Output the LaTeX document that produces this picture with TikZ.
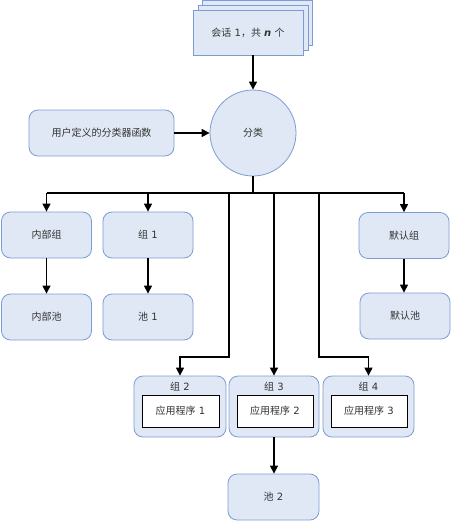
\documentclass[tikz,border=0pt]{standalone}
\usepackage{fontspec}
\setmainfont{DejaVu Sans}
\newfontfamily\cjk{Noto Sans CJK SC}
\usetikzlibrary{arrows.meta,positioning}
\definecolor{bfill}{HTML}{DFE8F4}
\definecolor{bbord}{HTML}{7E9CD4}
\definecolor{tcol}{HTML}{333333}
\newcommand{\fs}{\fontsize{10pt}{12pt}\selectfont}
\begin{document}
\begin{tikzpicture}[x=1pt,y=-1pt,
  box/.style={draw=bbord, fill=bfill, rounded corners=9pt, minimum width=90pt, minimum height=46pt, line width=0.8pt, text=tcol, font=\fs, inner sep=0pt},
  stk/.style={draw=bbord, fill=bfill, minimum width=110pt, minimum height=45pt, line width=0.8pt, text=tcol, font=\fs, inner sep=0pt},
  appbox/.style={draw=black, fill=white, minimum width=77pt, minimum height=32pt, line width=0.8pt, text=tcol, font=\fs, inner sep=0pt},
  lbl/.style={text=tcol, font=\fs, inner sep=0pt},
  arr/.style={-{Triangle[width=8pt,length=8pt]}, line width=1.2pt},
  ln/.style={line width=1.2pt}]
\useasboundingbox (0,0) rectangle (452,522);
% stack
\node[stk] (s3) at (257.5,23) {};
\node[stk] (s2) at (253,27.5) {};
\node[stk] (s1) at (248,32.5) {{\cjk 会话} 1{\cjk ，共} \textbf{\textit{n}} {\cjk 个}};
% classifier
\node[circle, draw=bbord, fill=bfill, line width=0.8pt, minimum size=86pt, inner sep=0pt, text=tcol, font=\fs] (cls) at (253,133) {\cjk 分类};
\node[box, minimum width=145pt] (udf) at (101.5,133) {\cjk 用户定义的分类器函数};
\draw[arr] (cls.north |- s1.south) -- (cls.north);
\draw[arr] (udf.east) -- (cls.west);
% groups row
\node[box] (ig) at (46.5,235) {\cjk 内部组};
\node[box] (g1) at (148,235) {{\cjk 组} 1};
\node[box] (dg) at (404,235.5) {\cjk 默认组};
\node[box] (ip) at (46.5,317) {\cjk 内部池};
\node[box] (p1) at (148,317) {{\cjk 池} 1};
\node[box] (dp) at (405,316) {\cjk 默认池};
% bottom groups
\node[box, minimum width=92pt, minimum height=61pt] (g2) at (180,406.5) {};
\node[box, minimum width=90pt, minimum height=61pt] (g3) at (274,406.5) {};
\node[box, minimum width=91pt, minimum height=61pt] (g4) at (368.5,406.5) {};
\node[lbl] (g2l) at (180,387) {{\cjk 组} 2};
\node[lbl] (g3l) at (274,387) {{\cjk 组} 3};
\node[lbl] (g4l) at (368.5,387) {{\cjk 组} 4};
\node[appbox] (a1) at (180.5,411) {{\cjk 应用程序} 1};
\node[appbox, minimum width=76pt] (a2) at (275,411) {{\cjk 应用程序} 2};
\node[appbox, minimum width=76pt] (a3) at (369,411) {{\cjk 应用程序} 3};
\node[box, minimum width=91pt] (p2) at (273.5,497) {{\cjk 池} 2};
% bus
\coordinate (bus) at (253,193);
\coordinate (b2) at (229,193);
\coordinate (b2d) at (229,357);
\coordinate (b4) at (319,193);
\coordinate (b4d) at (319,357);
\draw[ln] (cls.south) -- (bus);
\draw[ln] (ig.north |- bus) -- (dg.north |- bus);
\draw[arr] (ig.north |- bus) -- (ig.north);
\draw[arr] (g1.north |- bus) -- (g1.north);
\draw[arr] (dg.north |- bus) -- (dg.north);
\draw[arr] (b2) -- (b2d) -| (g2.north);
\draw[arr] (g3.north |- bus) -- (g3.north);
\draw[arr] (b4) -- (b4d) -| (g4.north);
% down arrows
\draw[arr] (ig.south) -- (ip.north);
\draw[arr] (g1.south) -- (p1.north);
\draw[arr] (dg.south) -- (dg.south |- dp.north);
\draw[arr] (g3.south) -- (p2.north -| g3.south);
\end{tikzpicture}
\end{document}
